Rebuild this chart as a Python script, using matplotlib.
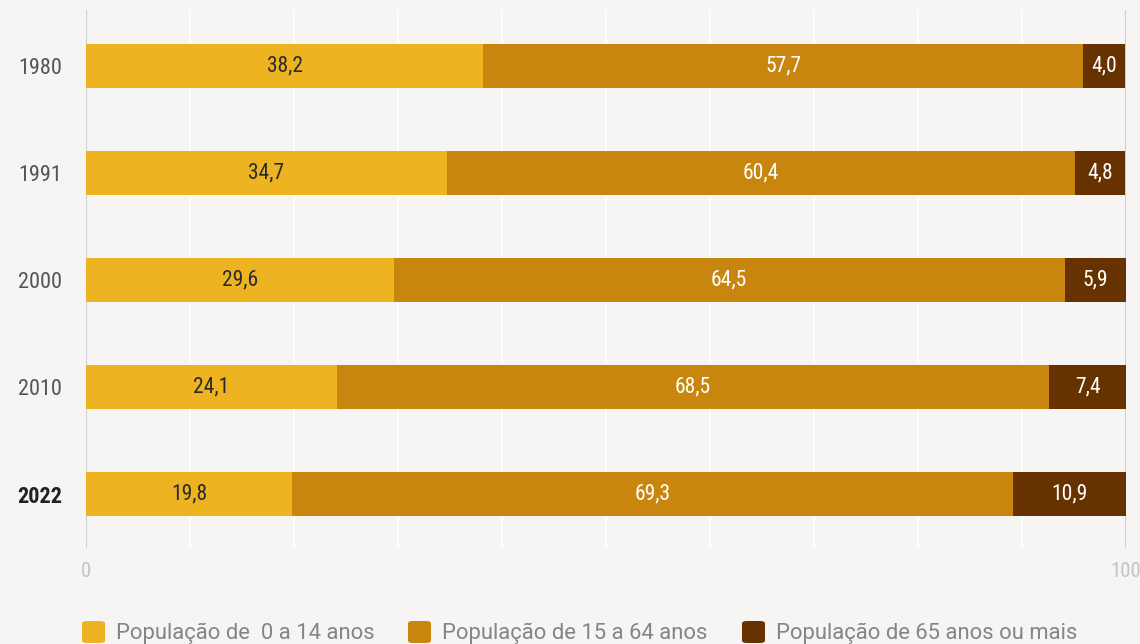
import matplotlib
matplotlib.use("Agg")
import matplotlib.pyplot as plt
from matplotlib import font_manager
from matplotlib.patches import FancyBboxPatch
import numpy as np

years = ["1980", "1991", "2000", "2010", "2022"]
age_0_14 = [38.2, 34.7, 29.6, 24.1, 19.8]
age_15_64 = [57.7, 60.4, 64.5, 68.5, 69.3]
age_65 = [4.0, 4.8, 5.9, 7.4, 10.9]
series_labels = ["População de  0 a 14 anos", "População de 15 a 64 anos", "População de 65 anos ou mais"]
colors = ["#eeb320", "#c8860e", "#663300"]
text_colors = ["#2a2a2a", "white", "white"]

names = {f.name for f in font_manager.fontManager.ttflist}
main = "Roboto"
for cand in ["Roboto Condensed", "Liberation Sans Narrow", "Roboto"]:
    if cand in names:
        main = cand
        break
plt.rcParams['font.family'] = [main, "DejaVu Sans"]

bg = "#f6f5f3"
fig = plt.figure(figsize=(11.4, 6.44), dpi=100, facecolor=bg)
ax = fig.add_axes([0.0754, 0.149, 0.9123, 0.8355], facecolor=bg)

y = np.arange(len(years))
left = np.zeros(len(years))
for vals, c, tc in zip([age_0_14, age_15_64, age_65], colors, text_colors):
    bars = ax.barh(y, vals, left=left, height=0.41, color=c, zorder=3)
    for b, v in zip(bars, vals):
        ax.text(b.get_x() + b.get_width() / 2, b.get_y() + b.get_height() / 2,
                f"{v:.1f}".replace(".", ","), ha="center", va="center",
                color=tc, fontsize=15.5, fontweight="normal", zorder=4)
    left += np.array(vals)

ax.set_xlim(0, 100)
ax.set_ylim(4.505, -0.523)
for x in range(10, 100, 10):
    ax.axvline(x, color="white", lw=1.2, zorder=1)
ax.axvline(0, color="#cfcfcf", lw=1.5, zorder=2)
ax.axvline(100, color="#cfcfcf", lw=1.5, zorder=2)
for s in ax.spines.values():
    s.set_visible(False)

ax.set_yticks(y)
ax.set_yticklabels(years, fontsize=16, color="#555555")
ax.get_yticklabels()[-1].set_fontweight("bold")
ax.get_yticklabels()[-1].set_color("#222222")
ax.tick_params(axis="y", length=0, pad=17)
ax.set_xticks([0, 100])
ax.set_xticklabels(["0", "100"], fontsize=15, color="#c4c4c4")
ax.tick_params(axis="x", length=0, pad=10)

# legend
leg_x = [82, 408, 742]
for lx, c, lab in zip(leg_x, colors, series_labels):
    fig.patches.append(FancyBboxPatch((lx / 1140, 1 - 643 / 644), 23 / 1140, 22 / 644,
                                      boxstyle="round,pad=0,rounding_size=0.004",
                                      transform=fig.transFigure, facecolor=c, edgecolor="none"))
    fig.text((lx + 34) / 1140, 1 - 633 / 644, lab, fontsize=15.8, color="#858585", va="center",
             family=["Roboto", "DejaVu Sans"])

fig.savefig("out.png", dpi=100, facecolor=bg)
